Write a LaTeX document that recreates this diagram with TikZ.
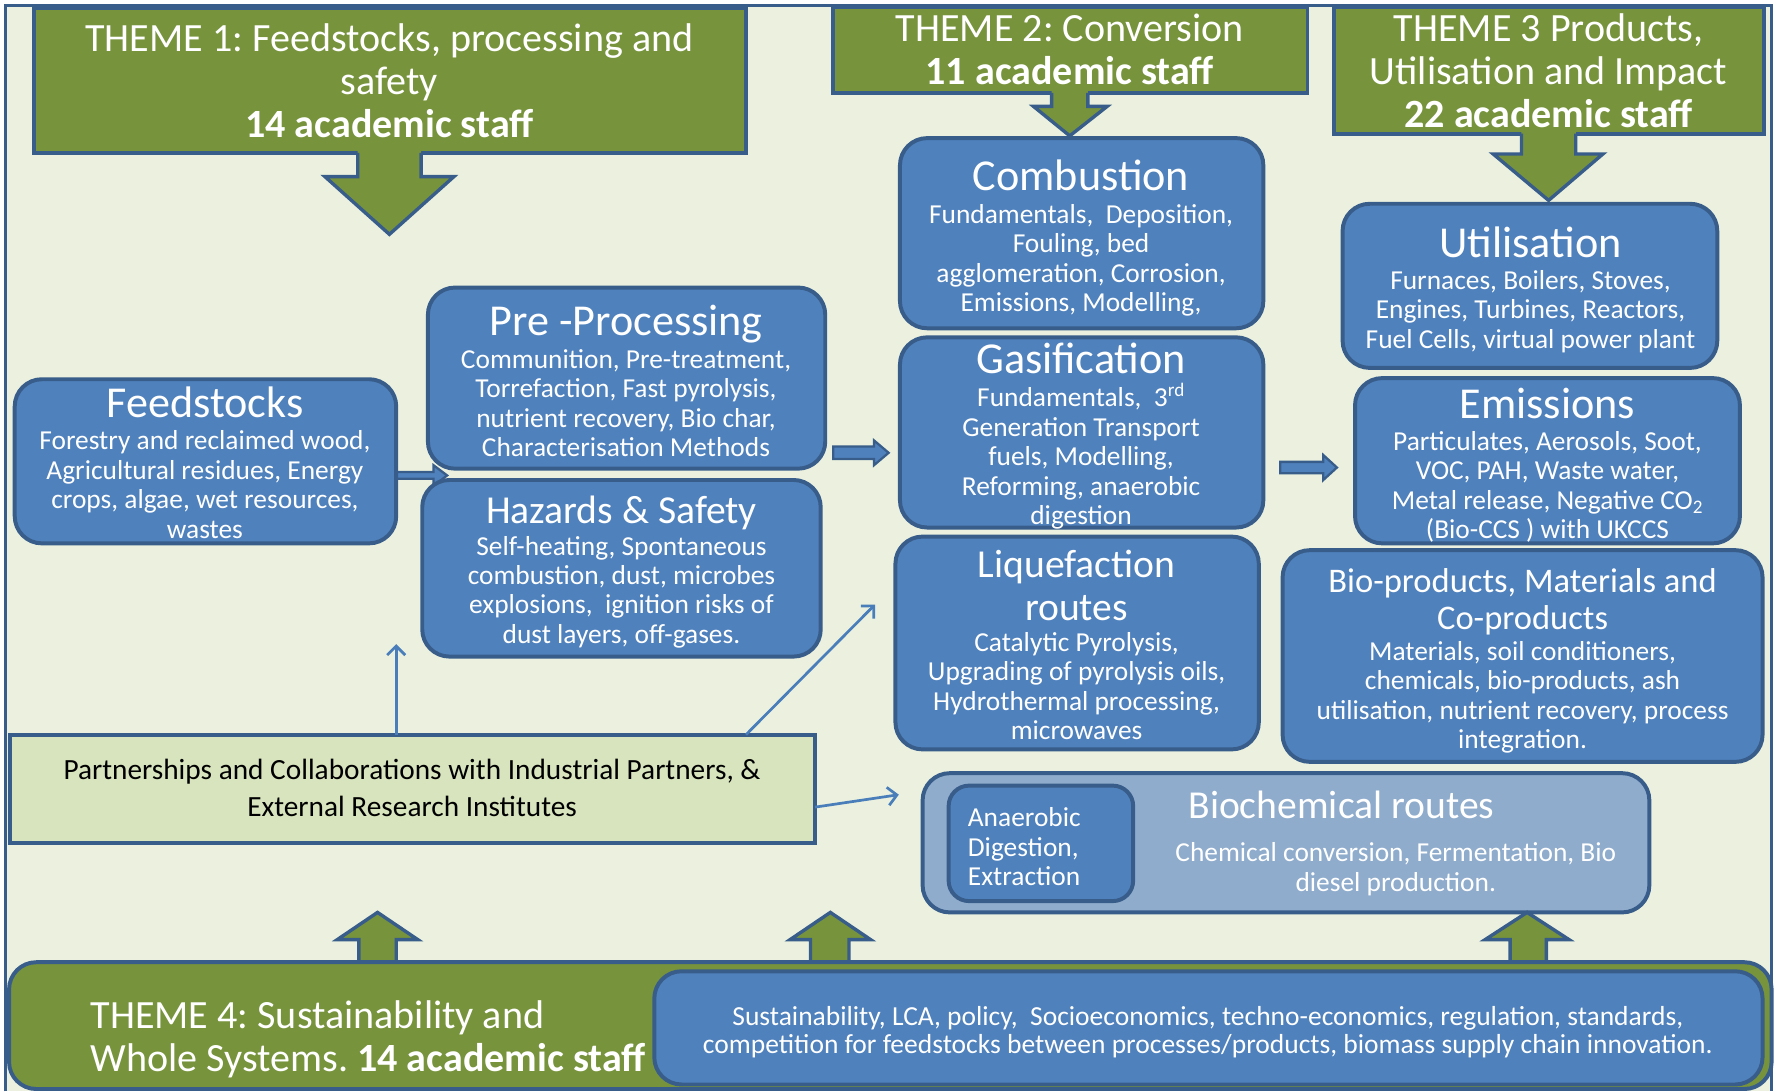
\documentclass[tikz,border=0pt]{standalone}
\usepackage{fontspec}
\setmainfont{Carlito}
\usetikzlibrary{arrows.meta}
\definecolor{bgc}{HTML}{EBF1DE}
\definecolor{bordc}{HTML}{385D8A}
\definecolor{boxblue}{HTML}{4F81BD}
\definecolor{grn}{HTML}{77933C}
\definecolor{partc}{HTML}{D7E4BD}
\definecolor{biochc}{HTML}{8FACCC}
\definecolor{arrc}{HTML}{4A7EBB}
\frenchspacing
\begin{document}
\begin{tikzpicture}[x=1pt,y=-1pt,
  every node/.style={inner sep=0pt, outer sep=0pt},
  border/.style={draw=bordc, line width=3.5pt},
  bluebox/.style={border, fill=boxblue, rounded corners=24pt},
  greenbox/.style={border, fill=grn},
  themetxt/.style={text=white, align=center, font=\fontsize{35.4}{38}\selectfont},
  titletxt/.style={text=white, align=center, font=\fontsize{39}{40}\selectfont},
  titletwo/.style={text=white, align=center, font=\fontsize{35}{38}\selectfont},
  bodytxt/.style={text=white, align=center, font=\fontsize{24.2}{26}\selectfont},
  bigarrow/.style={fill=grn, draw=bordc, line width=3pt, line join=miter},
  blockarrow/.style={fill=boxblue, draw=bordc, line width=2pt},
  thinarrow/.style={draw=arrc, line width=2.4pt, -{Straight Barb[length=8pt,width=16pt]}}
]
\useasboundingbox (0,0) rectangle (1568,964);
\fill[white] (0,0) rectangle (1568,964);
\fill[bgc] (5,5) rectangle (1565,964);
\draw[draw=bordc, line width=3pt] (5,964) -- (5,5) -- (1565,5) -- (1565,964);

% Theme boxes
\node[greenbox, minimum width=629pt, minimum height=128pt] (th1) at (344.5,71) {};
\node[greenbox, minimum width=419pt, minimum height=76pt] (th2) at (945.5,44) {};
\node[greenbox, minimum width=380pt, minimum height=112pt] (th3) at (1368,62) {};
\node[themetxt] (th1t) at (344,71.5) {THEME 1: Feedstocks, processing and\\safety\\\textbf{14 academic staff}};
\node[themetxt] (th2t) at (945,44) {THEME 2: Conversion\\\textbf{11 academic staff}};
\node[themetxt] (th3t) at (1368,62.5) {THEME 3 Products,\\Utilisation and Impact\\\textbf{22 academic staff}};

% Theme arrows (down)
\fill[grn] (316,132) -- (316,156) -- (287,156) -- (344,207) -- (401,156) -- (372,156) -- (372,132) -- cycle;
\draw[bigarrow, fill=none] (316,135) -- (316,156) -- (287,156) -- (344,207) -- (401,156) -- (372,156) -- (372,135);
\fill[grn] (929,79) -- (929,94) -- (913,94) -- (945,120) -- (978,94) -- (961,94) -- (961,79) -- cycle;
\draw[bigarrow, fill=none] (929,82) -- (929,94) -- (913,94) -- (945,120) -- (978,94) -- (961,94) -- (961,82);
\fill[grn] (1344,115) -- (1344,136) -- (1319,136) -- (1368,177) -- (1416,136) -- (1392,136) -- (1392,115) -- cycle;
\draw[bigarrow, fill=none] (1344,118) -- (1344,136) -- (1319,136) -- (1368,177) -- (1416,136) -- (1392,136) -- (1392,118);

% Feedstocks arrow (behind boxes)
\draw[blockarrow] (345,417) -- (383,417) -- (383,411) -- (395,420) -- (383,429) -- (383,423) -- (345,423) -- cycle;

% Blue boxes
\node[bluebox, minimum width=321pt, minimum height=168pt] (comb) at (955.5,206) {};
\node[bluebox, minimum width=331pt, minimum height=145pt] (util) at (1351.5,252.5) {};
\node[bluebox, minimum width=351pt, minimum height=160pt] (prep) at (553.5,334) {};
\node[bluebox, minimum width=337pt, minimum height=145pt] (feed) at (181.5,407.5) {};
\node[bluebox, minimum width=352pt, minimum height=156pt] (haz) at (549,502) {};
\node[bluebox, minimum width=321pt, minimum height=168pt] (gas) at (955.5,382) {};
\node[bluebox, minimum width=321pt, minimum height=188pt] (liq) at (951.5,568) {};
\node[bluebox, minimum width=340pt, minimum height=146pt] (emis) at (1367,407) {};
\node[bluebox, minimum width=424pt, minimum height=187pt] (biop) at (1345,579.5) {};
\node[border, fill=biochc, rounded corners=24pt, minimum width=642pt, minimum height=123pt] (bioch) at (1136,744.5) {};
\node[bluebox, rounded corners=18pt, minimum width=163pt, minimum height=102pt] (anae) at (919.5,745) {};

% Box texts
\node[titletxt] (combT) at (955,155) {Combustion};
\node[bodytxt] (combB) at (955,230) {Fundamentals,\ \ Deposition,\\Fouling, bed\\agglomeration, Corrosion,\\Emissions, Modelling,};
\node[titletxt] (utilT) at (1352,214) {Utilisation};
\node[bodytxt] (utilB) at (1352,275) {Furnaces, Boilers, Stoves,\\Engines, Turbines, Reactors,\\Fuel Cells, virtual power plant};
\node[titletxt] (prepT) at (553,286) {Pre -Processing};
\node[bodytxt] (prepB) at (553,356) {Communition, Pre-treatment,\\Torrefaction, Fast pyrolysis,\\nutrient recovery, Bio char,\\Characterisation Methods};
\node[titletxt] (feedT) at (181,355) {Feedstocks};
\node[bodytxt] (feedB) at (181,428) {Forestry and reclaimed wood,\\Agricultural residues, Energy\\crops, algae, wet resources,\\wastes};
\node[titletwo] (hazT) at (549,453) {Hazards \& Safety};
\node[bodytxt] (hazB) at (549,523) {Self-heating, Spontaneous\\combustion, dust, microbes\\explosions,\ \ ignition risks of\\dust layers, off-gases.};
\node[titletxt] (gasT) at (955,317) {Gasification};
\node[bodytxt] (gasB) at (955,403) {Fundamentals,\ \ 3\textsuperscript{rd}\\Generation Transport\\fuels, Modelling,\\Reforming, anaerobic\\digestion};
\node[titletwo] (liqT) at (951,517) {Liquefaction\\routes};
\node[bodytxt] (liqB) at (951,606) {Catalytic Pyrolysis,\\Upgrading of pyrolysis oils,\\Hydrothermal processing,\\microwaves};
\node[titletxt] (emisT) at (1367,356) {Emissions};
\node[bodytxt] (emisB) at (1367,430) {Particulates, Aerosols, Soot,\\VOC, PAH, Waste water,\\Metal release, Negative CO\textsubscript{2}\\(Bio-CCS ) with UKCCS};
\node[text=white, align=center, font=\fontsize{30.5}{33}\selectfont] (biopT) at (1345,531.5) {Bio-products, Materials and\\Co-products};
\node[bodytxt] (biopB) at (1345,616) {Materials, soil conditioners,\\chemicals, bio-products, ash\\utilisation, nutrient recovery, process\\integration.};
\node[titletwo] (biochT) at (1185,711) {Biochemical routes};
\node[bodytxt] (biochB) at (1233,768) {Chemical conversion, Fermentation, Bio\\diesel production.};
\node[bodytxt, align=left, anchor=west] (anaeT) at (855,748) {Anaerobic\\Digestion,\\Extraction};

% Conversion arrows
\draw[blockarrow] (736,394.5) -- (772,394.5) -- (772,389) -- (785,400) -- (772,411) -- (772,405.5) -- (736,405.5) -- cycle;
\draw[blockarrow] (1131,408) -- (1169,408) -- (1169,402) -- (1181,413) -- (1169,424) -- (1169,418) -- (1131,418) -- cycle;

% Partnerships
\node[border, fill=partc, minimum width=711pt, minimum height=96pt] (part) at (364.5,697) {};
\node[align=center, text=black, font=\fontsize{25.9}{32}\selectfont] (partT) at (364,696) {Partnerships and Collaborations with Industrial Partners, \&\\External Research Institutes};
\coordinate (a1s) at (350,649);
\coordinate (a1e) at (350,569);
\coordinate (a2s) at (659,649);
\coordinate (a2e) at (773,534);
\coordinate (a3s) at (720,713);
\coordinate (a3e) at (794,702);
\draw[thinarrow] (a1s) -- (a1e);
\draw[thinarrow] (a2s) -- (a2e);
\draw[thinarrow] (a3s) -- (a3e);

% Bottom up arrows
\draw[bigarrow] (317,851) -- (317,830) -- (298,830) -- (333.5,806) -- (369,830) -- (350,830) -- (350,851) -- cycle;
\draw[bigarrow] (716,851) -- (716,830) -- (698,830) -- (733.5,806) -- (769,830) -- (750,830) -- (750,851) -- cycle;
\draw[bigarrow] (1334,851) -- (1334,830) -- (1312,830) -- (1349,806) -- (1386,830) -- (1366,830) -- (1366,851) -- cycle;

% Theme 4
\node[greenbox, rounded corners=24pt, minimum width=1557pt, minimum height=112pt] (th4) at (786.5,906) {};
\node[bluebox, minimum width=979pt, minimum height=100pt] (sust) at (1067.5,908) {};
\node[text=white, align=left, anchor=west, font=\fontsize{35.4}{38}\selectfont] (th4t) at (80,918) {THEME 4: Sustainability and\\Whole Systems. \textbf{14 academic staff}};
\node[text=white, align=center, font=\fontsize{24.3}{25}\selectfont] (sustT) at (1067,911.5) {Sustainability, LCA, policy,\ \ Socioeconomics, techno-economics, regulation, standards,\\competition for feedstocks between processes/products, biomass supply chain innovation.};
\end{tikzpicture}
\end{document}
